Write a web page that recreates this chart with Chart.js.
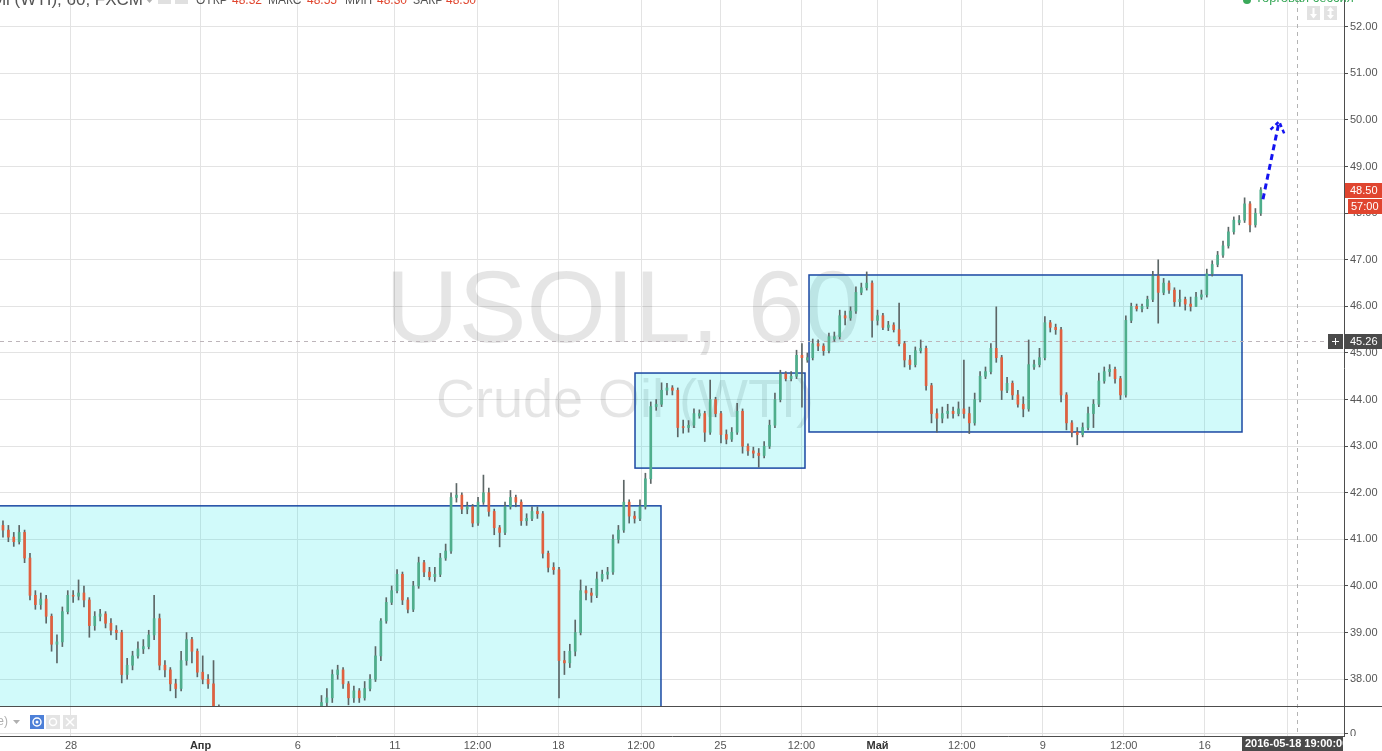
<!DOCTYPE html>
<html>
<head>
<meta charset="utf-8">
<script src="https://cdn.jsdelivr.net/npm/chart.js@4.4.1/dist/chart.umd.min.js"></script>
<style>
  html, body { margin: 0; padding: 0; background: #fff; overflow: hidden; }
  canvas { display: block; }
</style>
</head>
<body>
<canvas id="chartCanvas" width="1382" height="751"></canvas>
<script>
// USOIL 4h candles, day 0 = Mon 28 Mar 2016 (trading days, weekends skipped)
const startDay = -2.1;
const candlesPerDay = 6;

const opens = [
  41.3,41.2,41.05,40.95,41.15,40.6,39.8,39.6,39.72,39.35,
  38.75,38.8,39.45,39.8,39.78,39.85,39.7,39.15,39.35,39.4,
  39.2,39.05,39.0,38.1,38.3,38.5,38.65,38.7,38.95,39.3,
  38.3,38.2,37.9,37.8,38.4,38.85,38.6,38.15,38.0,37.9,
  37.3,37.0,36.7,36.5,36.6,36.3,36.4,36.1,36.0,36.2,
  36.0,35.9,36.1,36.0,36.3,36.5,36.8,36.7,36.9,37.2,
  37.5,37.6,38.1,38.2,37.9,37.6,37.75,37.6,37.8,38.0,
  38.5,39.25,39.65,39.9,40.25,39.7,39.5,40.0,40.5,40.3,
  40.2,40.25,40.6,40.75,41.9,41.95,41.65,41.7,41.35,41.8,
  42.0,41.6,41.25,41.15,41.7,41.9,41.8,41.4,41.45,41.6,
  41.55,40.7,40.4,40.35,38.4,38.35,38.6,39.0,39.9,39.85,
  39.8,40.15,40.25,40.3,41.0,41.2,41.8,41.5,41.45,41.7,
  42.3,43.85,43.9,44.2,44.25,44.2,43.42,43.4,43.45,43.65,
  43.7,43.3,44.0,43.7,43.25,43.15,43.3,43.75,43.0,42.9,
  42.85,42.8,43.0,43.45,44.0,44.55,44.45,44.5,44.95,44.85,
  44.9,45.2,45.15,45.05,45.3,45.35,45.8,45.75,45.9,46.3,
  46.4,46.5,45.7,45.8,45.55,45.6,45.5,45.2,44.85,44.75,
  45.05,45.1,44.3,43.7,43.6,43.7,43.75,43.7,43.8,43.7,
  43.5,44.0,44.5,44.6,45.1,44.9,44.2,44.35,44.1,43.9,
  43.8,44.7,44.75,44.9,45.65,45.55,45.5,44.1,43.5,43.3,
  43.25,43.4,43.7,43.9,44.4,44.6,44.65,44.45,44.1,45.7,
  46.0,45.95,46.0,46.15,46.65,46.3,46.5,46.35,46.1,46.15,
  46.05,46.0,46.2,46.25,46.7,46.9,47.1,47.3,47.6,47.8,
  47.85,48.2,47.75,48.0
];
const highs = [
  41.4,41.3,41.15,41.3,41.2,40.7,39.9,39.85,39.8,39.4,
  38.95,39.55,39.9,39.9,40.13,40.0,39.75,39.45,39.5,39.45,
  39.3,39.15,39.05,38.45,38.6,38.8,38.85,39.05,39.8,39.4,
  38.4,38.25,38.0,38.6,39.0,38.9,38.65,38.5,38.1,38.4,
  37.45,37.1,36.85,36.75,36.7,36.55,36.5,36.2,36.35,36.3,
  36.1,36.25,36.2,36.45,36.65,36.95,36.9,37.05,37.35,37.65,
  37.8,38.2,38.3,38.25,37.95,37.85,37.8,37.95,38.1,38.7,
  39.3,39.75,40.0,40.35,40.3,39.75,40.1,40.62,40.55,40.4,
  40.4,40.7,40.9,42.0,42.2,42.0,41.8,41.75,41.9,42.38,
  42.1,41.65,41.3,41.8,42.05,41.95,41.85,41.55,41.7,41.7,
  41.6,40.75,40.5,40.4,38.6,38.75,39.27,40.13,40.0,39.95,
  40.3,40.34,40.4,41.1,41.3,42.27,41.85,41.6,41.85,42.42,
  43.95,44.0,44.36,44.35,44.3,44.25,43.56,43.55,43.8,43.78,
  43.75,44.42,44.05,43.75,43.35,43.4,43.92,43.8,43.05,42.98,
  42.95,43.1,43.56,44.14,44.63,44.6,44.6,45.06,45.2,45.0,
  45.3,45.28,45.2,45.43,45.45,45.92,45.9,45.99,46.42,46.5,
  46.74,46.55,45.92,45.85,45.68,45.65,46.07,45.25,44.95,45.13,
  45.28,45.15,44.35,43.8,43.84,43.9,43.84,43.95,44.85,43.84,
  44.14,44.6,44.7,45.2,45.99,44.95,44.48,44.4,44.2,44.06,
  45.28,44.85,45.1,45.78,45.7,45.62,45.55,44.15,43.55,43.4,
  43.5,43.84,44.0,44.57,44.7,44.75,44.7,44.5,45.8,46.07,
  46.05,46.05,46.22,46.75,47.0,46.6,46.55,46.4,46.35,46.2,
  46.2,46.3,46.35,46.8,46.98,47.18,47.4,47.7,47.92,47.95,
  48.33,48.25,48.1,48.55
];
const lows = [
  41.05,40.95,40.85,40.9,40.5,39.7,39.5,39.5,39.2,38.6,
  38.35,38.7,39.4,39.65,39.7,39.55,38.9,39.05,39.25,39.1,
  38.95,38.85,37.92,38.0,38.2,38.45,38.55,38.65,38.85,38.2,
  38.05,37.75,37.6,37.75,38.3,38.35,38.05,37.9,37.8,37.1,
  36.85,36.6,36.4,36.35,36.2,36.2,36.0,35.85,35.9,35.9,
  35.7,35.8,35.9,35.95,36.2,36.4,36.55,36.6,36.8,37.1,
  37.4,37.5,38.0,37.8,37.45,37.5,37.5,37.55,37.75,37.95,
  38.4,39.2,39.6,39.85,39.6,39.42,39.45,39.95,40.2,40.13,
  40.1,40.2,40.55,40.7,41.8,41.55,41.55,41.27,41.3,41.75,
  41.5,41.1,40.84,41.1,41.65,41.7,41.3,41.3,41.4,41.45,
  40.6,40.3,40.25,37.6,38.1,38.25,38.5,38.95,39.7,39.65,
  39.75,40.1,40.15,40.25,40.92,41.15,41.35,41.35,41.4,41.65,
  42.2,43.77,43.85,44.1,44.1,43.2,43.28,43.3,43.4,43.6,
  43.1,43.25,43.63,43.07,43.05,43.1,43.25,42.85,42.8,42.75,
  42.55,42.75,42.95,43.4,43.95,44.4,44.4,44.45,43.84,44.8,
  44.85,45.05,44.95,45.0,45.25,45.3,45.6,45.7,45.85,46.25,
  46.35,45.34,45.6,45.5,45.48,45.45,45.15,44.7,44.65,44.7,
  45.0,44.2,43.5,43.3,43.5,43.6,43.6,43.65,43.6,43.27,
  43.45,43.95,44.45,44.55,44.8,44.0,44.15,44.0,43.84,43.63,
  43.75,44.65,44.7,44.85,45.45,45.4,43.95,43.35,43.2,43.03,
  43.2,43.35,43.4,43.85,44.35,44.5,44.35,44.0,44.05,45.65,
  45.9,45.88,45.95,46.1,45.64,46.25,46.28,46.0,46.0,45.92,
  45.9,46.0,46.15,46.2,46.65,46.85,47.05,47.25,47.55,47.75,
  47.8,47.6,47.7,47.95
];
const closes = [
  41.2,41.05,40.95,41.15,40.6,39.8,39.6,39.72,39.35,38.75,
  38.8,39.45,39.8,39.78,39.85,39.7,39.15,39.35,39.4,39.2,
  39.05,39.0,38.1,38.3,38.5,38.65,38.7,38.95,39.3,38.3,
  38.2,37.9,37.8,38.4,38.85,38.6,38.15,38.0,37.9,37.3,
  37.0,36.7,36.5,36.6,36.3,36.4,36.1,36.0,36.2,36.0,
  35.9,36.1,36.0,36.3,36.5,36.8,36.7,36.9,37.2,37.5,
  37.6,38.1,38.2,37.9,37.6,37.75,37.6,37.8,38.0,38.5,
  39.25,39.65,39.9,40.25,39.7,39.5,40.0,40.5,40.3,40.2,
  40.25,40.6,40.75,41.9,41.95,41.65,41.7,41.35,41.8,42.0,
  41.6,41.25,41.15,41.7,41.9,41.8,41.4,41.45,41.6,41.55,
  40.7,40.4,40.35,38.4,38.35,38.6,39.0,39.9,39.85,39.8,
  40.15,40.25,40.3,41.0,41.2,41.8,41.5,41.45,41.7,42.3,
  43.85,43.9,44.2,44.25,44.2,43.4,43.4,43.45,43.7,43.7,
  43.3,44.0,43.7,43.25,43.15,43.3,43.75,43.0,42.9,42.85,
  42.8,43.0,43.45,44.0,44.55,44.45,44.5,44.95,44.9,44.9,
  45.2,45.15,45.05,45.35,45.35,45.8,45.75,45.9,46.3,46.4,
  46.5,45.7,45.8,45.55,45.6,45.5,45.2,44.85,44.75,45.05,
  45.1,44.3,43.7,43.6,43.7,43.75,43.7,43.8,43.7,43.5,
  44.0,44.5,44.6,45.1,44.9,44.2,44.35,44.1,43.9,43.8,
  44.75,44.75,44.9,45.65,45.55,45.5,44.1,43.5,43.3,43.25,
  43.4,43.7,43.9,44.4,44.6,44.65,44.45,44.1,45.7,46.0,
  45.95,46.0,46.15,46.65,46.3,46.5,46.35,46.1,46.15,46.05,
  46.0,46.2,46.25,46.7,46.9,47.1,47.3,47.6,47.85,47.85,
  48.2,47.75,48.0,48.5
];

// time axis labels (in trading days from 28 Mar)
const xTickDays = [0, 4, 7, 10, 12.55, 15.05, 17.6, 20.05, 22.55, 24.9, 27.5, 30, 32.5, 35, 37.55];
const xTickLabels = ['28', 'Апр', '6', '11', '12:00', '18', '12:00', '25', '12:00', 'Май', '12:00', '9', '12:00', '16', '12:00'];
const monthLabels = ['Апр', 'Май'];
const priceTicks = [38, 39, 40, 41, 42, 43, 44, 45, 46, 47, 48, 49, 50, 51, 52];

// drawn rectangles (day range, price range)
const zones = [
  { from: -3, to: 18.215, top: 41.72, bottom: 37.0 },
  { from: 17.413, to: 22.661, top: 44.57, bottom: 42.53 },
  { from: 22.785, to: 36.153, top: 46.674, bottom: 43.305 }
];
const arrowFrom = { day: 36.8, price: 48.3 };
const arrowTo = { day: 37.3, price: 49.97 };
const crossPrice = 45.26;
const crossDay = 37.85;
const lastPrice = 48.50;
const header = { open: '48.32', high: '48.55', low: '48.30', close: '48.50' };

const UP = '#4fae8c';
const DOWN = '#e0603f';
const WICK = '#5c6666';
const FONT = '"Liberation Sans", Arial, sans-serif';
Chart.defaults.font.family = FONT;
Chart.defaults.font.size = 11;

const days = closes.map((_, i) => startDay + i / candlesPerDay);
const wickData = days.map((d, i) => ({ x: d, y: [lows[i], highs[i]] }));
const bodyData = days.map((d, i) => ({ x: d, y: [opens[i], closes[i]] }));

const PANE_GAP = 30; // lower indicator pane height

const overlay = {
  id: 'overlay',
  beforeDatasetsDraw(chart) {
    const { ctx, chartArea: a, scales: { x, y } } = chart;
    const paneBottom = a.bottom - PANE_GAP;
    ctx.save();
    ctx.beginPath();
    ctx.rect(a.left, a.top, a.right - a.left, paneBottom - a.top);
    ctx.clip();

    // watermark
    ctx.fillStyle = 'rgba(0,0,0,0.1)';
    ctx.textAlign = 'center';
    ctx.textBaseline = 'alphabetic';
    ctx.font = '102px ' + FONT;
    ctx.fillText('USOIL, 60', 623, 342);
    ctx.font = '54px ' + FONT;
    ctx.fillText('Crude Oil (WTI)', 625, 417);

    // rectangles
    zones.forEach(z => {
      const x1 = x.getPixelForValue(z.from), x2 = x.getPixelForValue(z.to);
      const y1 = y.getPixelForValue(z.top), y2 = y.getPixelForValue(z.bottom);
      ctx.fillStyle = 'rgba(0,230,230,0.18)';
      ctx.fillRect(x1, y1, x2 - x1, y2 - y1);
      ctx.strokeStyle = '#1a48a3';
      ctx.lineWidth = 1.5;
      ctx.strokeRect(x1, y1, x2 - x1, y2 - y1);
    });
    ctx.restore();

    // crosshair
    ctx.save();
    ctx.setLineDash([4, 4]);
    ctx.lineWidth = 1;
    ctx.strokeStyle = '#bdb5ba';
    const cy = Math.round(y.getPixelForValue(crossPrice)) + 0.5;
    ctx.beginPath(); ctx.moveTo(a.left, cy); ctx.lineTo(a.right, cy); ctx.stroke();
    const cx = Math.round(x.getPixelForValue(crossDay)) + 0.5;
    ctx.strokeStyle = '#b4b4b4';
    ctx.beginPath(); ctx.moveTo(cx, a.top); ctx.lineTo(cx, a.bottom); ctx.stroke();
    ctx.restore();
  },
  afterDatasetsDraw(chart) {
    const { ctx, chartArea: a, scales: { x, y } } = chart;
    const paneBottom = a.bottom - PANE_GAP;

    // forecast arrow
    const x1 = x.getPixelForValue(arrowFrom.day), y1 = y.getPixelForValue(arrowFrom.price);
    const x2 = x.getPixelForValue(arrowTo.day), y2 = y.getPixelForValue(arrowTo.price);
    ctx.save();
    ctx.strokeStyle = '#1414f0';
    ctx.lineWidth = 3;
    ctx.setLineDash([6, 4]);
    ctx.beginPath(); ctx.moveTo(x1, y1); ctx.lineTo(x2, y2); ctx.stroke();
    const ang = Math.atan2(y2 - y1, x2 - x1);
    ctx.setLineDash([4, 3]);
    ctx.lineWidth = 2.5;
    ctx.beginPath();
    ctx.moveTo(x2 - 13 * Math.cos(ang - 0.6), y2 - 13 * Math.sin(ang - 0.6));
    ctx.lineTo(x2, y2);
    ctx.lineTo(x2 - 13 * Math.cos(ang + 0.6), y2 - 13 * Math.sin(ang + 0.6));
    ctx.stroke();
    ctx.restore();

    // lower pane separators
    ctx.save();
    ctx.fillStyle = '#4d4d4d';
    ctx.fillRect(0, paneBottom, chart.width, 1);
    ctx.fillStyle = '#dedede';
    ctx.fillRect(a.left, a.bottom - 3, a.right - a.left, 1);

    // pane legend
    ctx.font = '12px ' + FONT;
    ctx.fillStyle = '#b0b0b0';
    ctx.textAlign = 'right';
    ctx.textBaseline = 'middle';
    ctx.fillText('(close)', 8, paneBottom + 16);
    ctx.beginPath();
    ctx.moveTo(13, paneBottom + 14); ctx.lineTo(20, paneBottom + 14); ctx.lineTo(16.5, paneBottom + 18);
    ctx.closePath(); ctx.fill();
    ctx.fillStyle = '#4d80d8';
    ctx.fillRect(30, paneBottom + 9, 14, 14);
    ctx.strokeStyle = '#fff';
    ctx.lineWidth = 1.5;
    ctx.beginPath(); ctx.arc(37, paneBottom + 16, 4, 0, Math.PI * 2); ctx.stroke();
    ctx.fillStyle = '#fff';
    ctx.beginPath(); ctx.arc(37, paneBottom + 16, 1.5, 0, Math.PI * 2); ctx.fill();
    ctx.fillStyle = '#e4e4e4';
    ctx.fillRect(46, paneBottom + 9, 14, 14);
    ctx.fillRect(63, paneBottom + 9, 14, 14);
    ctx.strokeStyle = '#fff';
    ctx.beginPath(); ctx.arc(53, paneBottom + 16, 3.5, 0, Math.PI * 2); ctx.stroke();
    ctx.beginPath();
    ctx.moveTo(66, paneBottom + 12); ctx.lineTo(74, paneBottom + 20);
    ctx.moveTo(74, paneBottom + 12); ctx.lineTo(66, paneBottom + 20);
    ctx.stroke();
    ctx.restore();
  },
  afterDraw(chart) {
    const { ctx, chartArea: a, scales: { y } } = chart;
    ctx.save();

    // header (mostly cut by the top edge)
    ctx.textBaseline = 'alphabetic';
    ctx.font = '17px ' + FONT;
    ctx.textAlign = 'right';
    ctx.fillStyle = '#555';
    ctx.fillText('Crude Oil (WTI), 60, FXCM', 143, 5);
    ctx.textAlign = 'left';
    ctx.fillStyle = '#b0b0b0';
    ctx.beginPath(); ctx.moveTo(146, -1); ctx.lineTo(153, -1); ctx.lineTo(149.5, 3); ctx.closePath(); ctx.fill();
    ctx.fillStyle = '#e0e0e0';
    ctx.fillRect(158, -8, 13, 12);
    ctx.fillRect(175, -8, 13, 12);
    ctx.font = '12px ' + FONT;
    const parts = [['ОТКР', '#555', 196], [header.open, '#e0452e', 232], ['МАКС', '#555', 268], [header.high, '#e0452e', 307],
                   ['МИН', '#555', 345], [header.low, '#e0452e', 377], ['ЗАКР', '#555', 413], [header.close, '#e0452e', 446]];
    parts.forEach(([t, c, px]) => { ctx.fillStyle = c; ctx.fillText(t, px, 4); });

    // top right status
    ctx.fillStyle = '#3aa95a';
    ctx.beginPath(); ctx.arc(1247, 0, 4, 0, Math.PI * 2); ctx.fill();
    ctx.font = '13px ' + FONT;
    ctx.fillText('Торговая сессия', 1255, 2);
    ctx.fillStyle = '#e2e2e2';
    ctx.fillRect(1307, 6, 13, 14);
    ctx.fillRect(1324, 6, 13, 14);
    ctx.strokeStyle = '#fff';
    ctx.lineWidth = 2;
    ctx.beginPath();
    ctx.moveTo(1313.5, 8); ctx.lineTo(1313.5, 17);
    ctx.moveTo(1330.5, 8); ctx.lineTo(1330.5, 18);
    ctx.stroke();
    ctx.fillStyle = '#fff';
    ctx.beginPath(); ctx.moveTo(1310, 14); ctx.lineTo(1317, 14); ctx.lineTo(1313.5, 18.5); ctx.closePath(); ctx.fill();
    ctx.beginPath(); ctx.moveTo(1327, 11); ctx.lineTo(1334, 11); ctx.lineTo(1330.5, 7); ctx.closePath(); ctx.fill();
    ctx.beginPath(); ctx.moveTo(1327, 15); ctx.lineTo(1334, 15); ctx.lineTo(1330.5, 19); ctx.closePath(); ctx.fill();

    // price scale labels
    ctx.font = '11px ' + FONT;
    ctx.textBaseline = 'middle';
    const ly = Math.round(y.getPixelForValue(lastPrice));
    ctx.fillStyle = '#e0452f';
    ctx.fillRect(a.right + 1, ly - 7, 38, 15);
    ctx.fillRect(a.right + 4, ly + 9, 35, 15);
    ctx.fillStyle = '#fff';
    ctx.fillText(lastPrice.toFixed(2), a.right + 6, ly + 0.5);
    ctx.fillText('57:00', a.right + 7, ly + 16.5);

    const cy = Math.round(y.getPixelForValue(crossPrice));
    ctx.fillStyle = '#4a4a4a';
    ctx.fillRect(a.right + 1, cy - 7, 38, 15);
    ctx.fillRect(a.right - 16, cy - 7, 15, 15);
    ctx.fillStyle = '#fff';
    ctx.fillText(crossPrice.toFixed(2), a.right + 6, cy + 0.5);
    ctx.fillRect(a.right - 12, cy, 7, 1);
    ctx.fillRect(a.right - 9, cy - 3, 1, 7);

    // lower pane scale value
    ctx.save();
    ctx.beginPath(); ctx.rect(a.right, a.bottom - 12, 40, 12); ctx.clip();
    ctx.fillStyle = '#4d4d4d';
    ctx.fillRect(a.right, a.bottom - 3, 4, 1);
    ctx.fillStyle = '#555';
    ctx.fillText('0', a.right + 6, a.bottom - 2);
    ctx.restore();

    // crosshair time label
    ctx.fillStyle = '#4a4a4a';
    ctx.fillRect(1242, a.bottom + 1, 101, chart.height - a.bottom - 1);
    ctx.save();
    ctx.beginPath(); ctx.rect(1242, a.bottom + 1, 101, 20); ctx.clip();
    ctx.fillStyle = '#fff';
    ctx.font = 'bold 11px ' + FONT;
    ctx.fillText('2016-05-18 19:00:00', 1245, a.bottom + 8);
    ctx.restore();
    ctx.restore();
  }
};

new Chart(document.getElementById('chartCanvas'), {
  type: 'bar',
  data: {
    datasets: [
      {
        label: 'body',
        data: bodyData,
        order: 1,
        barThickness: 2,
        minBarLength: 1,
        backgroundColor: c => closes[c.dataIndex] >= opens[c.dataIndex] ? UP : DOWN,
        borderWidth: 0,
        clip: { left: 0, top: 0, right: 0, bottom: -PANE_GAP }
      },
      {
        label: 'wick',
        data: wickData,
        order: 2,
        barThickness: 1,
        backgroundColor: WICK,
        borderWidth: 0,
        clip: { left: 0, top: 0, right: 0, bottom: -PANE_GAP }
      }
    ]
  },
  options: {
    responsive: false,
    animation: false,
    devicePixelRatio: 1,
    layout: { padding: 0 },
    datasets: { bar: { grouped: false } },
    plugins: { legend: { display: false }, tooltip: { enabled: false } },
    scales: {
      x: {
        type: 'linear',
        offset: false,
        min: -2.192,
        max: 39.302,
        afterBuildTicks: s => { s.ticks = xTickDays.map(v => ({ value: v })); },
        afterFit: s => { s.height = 15; s.paddingLeft = 0; s.paddingRight = 0; },
        grid: { color: '#e3e3e3', drawTicks: false, offset: false },
        border: { display: true, color: '#4d4d4d' },
        ticks: {
          autoSkip: false,
          maxRotation: 0,
          padding: 3,
          color: c => monthLabels.includes(xTickLabels[c.index]) ? '#333' : '#555',
          font: c => ({ size: 11, weight: monthLabels.includes(xTickLabels[c.index]) ? 'bold' : 'normal' }),
          callback: (v, i) => xTickLabels[i]
        }
      },
      y: {
        position: 'right',
        min: 36.781,
        max: 52.575,
        afterBuildTicks: s => { s.ticks = priceTicks.map(v => ({ value: v })); },
        afterFit: s => { s.width = 38; s.paddingTop = 0; s.paddingBottom = 0; },
        grid: { color: '#e3e3e3', drawTicks: true, tickLength: 4, tickColor: '#4d4d4d' },
        border: { display: true, color: '#4d4d4d' },
        ticks: {
          autoSkip: false,
          padding: 2,
          color: '#555',
          callback: v => v.toFixed(2)
        }
      }
    }
  },
  plugins: [overlay]
});
</script>
</body>
</html>
